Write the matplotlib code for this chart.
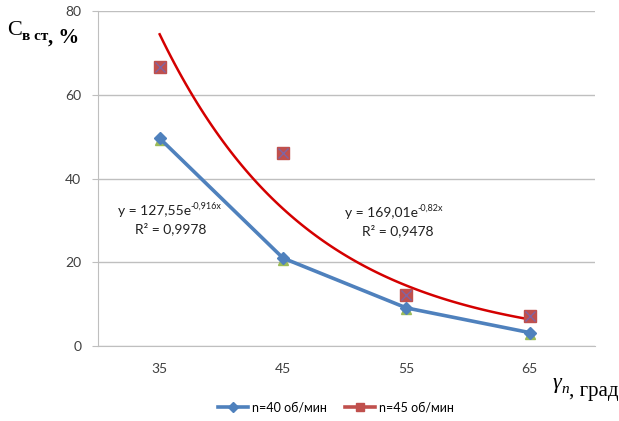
import numpy as np
import matplotlib.pyplot as plt
from matplotlib.lines import Line2D

angles = ['35', '45', '55', '65']
n40 = [49.6, 21.0, 9.1, 3.2]
n45 = [66.6, 46.0, 12.2, 7.2]
n40_b = [49.3, 20.6, 8.8, 2.8]
n45_b = [66.6, 46.0, 12.2, 7.2]
trend45 = (169.01, -0.82)

plt.rcParams['font.family'] = ['Lato', 'DejaVu Sans']

fig = plt.figure(figsize=(6.19, 4.21), dpi=100)
ax = fig.add_axes([98 / 619, 1 - 346 / 421, 497 / 619, 335 / 421])

x = np.arange(1, len(angles) + 1)

ax.plot(x, n40_b, ls='none', marker='^', ms=7, color='#9BBB59', zorder=3)
ax.plot(x, n40, color='#4F81BD', lw=2.6, marker='D', ms=6, zorder=4)
ax.plot(x, n45, ls='none', marker='s', ms=8, color='#C0504D', zorder=3)
ax.plot(x, n45_b, ls='none', marker='x', ms=7, mew=1, color='#8064A2', zorder=4)

xt = np.linspace(1, 4, 100)
ax.plot(xt, trend45[0] * np.exp(trend45[1] * xt), color='#D40000', lw=1.8, zorder=2)

ax.set_xlim(0.5, 4.53)
ax.set_ylim(0, 80)
ax.set_xticks(x)
ax.set_xticklabels(angles)
ax.set_yticks([0, 20, 40, 60, 80])
ax.tick_params(axis='x', length=0, pad=12, labelsize=10, colors='#404040')
ax.tick_params(axis='y', length=4, color='#BFBFBF', pad=8, labelsize=10, labelcolor='#404040')
ax.grid(axis='y', color='#BFBFBF', lw=1)
ax.set_axisbelow(True)
for s in ['top', 'right']:
    ax.spines[s].set_visible(False)
for s in ['left', 'bottom']:
    ax.spines[s].set_color('#BFBFBF')


def equation(xd, yd, base, sup, r2):
    t = ax.text(xd, yd, base, fontsize=10, color='#202020', va='baseline')
    ax.annotate(sup, xy=(1, 0.55), xycoords=t, fontsize=6.5, color='#202020', va='bottom')
    ax.text(xd + 0.14, yd - 4.3, 'R² = ' + r2, fontsize=10, color='#202020', va='baseline')


equation(0.66, 31.3, 'y = 127,55e', '-0,916x', '0,9978')
equation(2.5, 30.8, 'y = 169,01e', '-0,82x', '0,9478')

c = fig.text(7 / 619, 1 - 35 / 421, 'C', fontsize=16, family='Liberation Serif', va='baseline')
sub = ax.annotate('в ст', xy=(1, 0), xycoords=c, fontsize=11, family='Liberation Serif',
                  weight='bold', va='baseline')
ax.annotate(', %', xy=(1, 0), xycoords=sub, fontsize=15, family='Liberation Serif',
            weight='bold', va='baseline')

g = fig.text(553 / 619, 1 - 388 / 421, 'γ', fontsize=16, family='Liberation Serif',
             style='italic', va='baseline')
ni = ax.annotate('n', xy=(1, 0), xycoords=g, fontsize=11, family='Liberation Serif',
                 style='italic', va='baseline')
ax.annotate(', град', xy=(1, 0), xycoords=ni, fontsize=15, family='Liberation Serif', va='baseline')

handles = [Line2D([], [], color='#4F81BD', lw=2.6, marker='D', ms=5),
           Line2D([], [], color='#C0504D', lw=2.6, marker='s', ms=6)]
fig.legend(handles, ['n=40 об/мин', 'n=45 об/мин'], loc='center', bbox_to_anchor=(336 / 619, 1 - 407 / 421),
           ncol=2, frameon=False, fontsize=9, handlelength=2.4, columnspacing=1.5, handletextpad=0.3)

fig.savefig('out.png', dpi=100)
